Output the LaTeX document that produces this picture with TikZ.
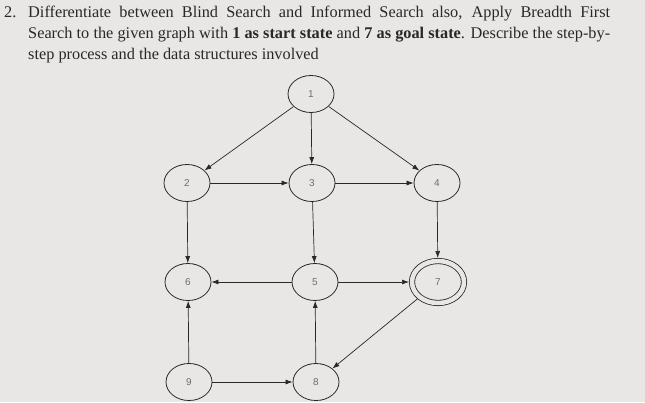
\documentclass[tikz,border=0pt]{standalone}
\usepackage{fontspec}
\setmainfont{Liberation Serif}
\newfontfamily\lblfont{Liberation Sans}
\usepackage{tikz}
\usetikzlibrary{shapes.geometric, arrows.meta, positioning}

\definecolor{paper}{RGB}{232,231,229}
\definecolor{ink}{RGB}{40,40,40}
\definecolor{lbl}{RGB}{110,110,110}

\begin{document}
\begin{tikzpicture}[x=1pt,y=-1pt,
  gnode/.style={ellipse,draw=ink,line width=0.8pt,minimum width=46pt,minimum height=37pt,inner sep=0pt,font=\lblfont\fontsize{10}{10}\selectfont,text=lbl},
  goalnode/.style={gnode,double=paper,double distance=4.5pt,minimum width=52pt,minimum height=42pt,outer sep=3pt},
  edge/.style={draw=ink,line width=0.7pt,-{Latex[length=7pt,width=5pt]}}]
\fill[paper] (0,0) rectangle (645,402);
\useasboundingbox (0,0) rectangle (645,402);

% question text
\node[anchor=base west,inner sep=0pt,text=ink,font=\fontsize{16.3}{20.7}\selectfont] (qnum) at (4,17.5) {2.};
\node[anchor=north west,inner sep=0pt,text=ink,text width=582pt,align=justify,font=\fontsize{16.3}{20.7}\selectfont] (qtext) at (28,6) {\hyphenpenalty=10000 Differentiate between Blind Search and Informed Search also, Apply Breadth First\linebreak Search to the given graph with \textbf{1 as start state} and \textbf{7 as goal state}. Describe the \mbox{step-by-}\linebreak step process and the data structures involved};

% graph
\node[gnode] (n1) at (311,94) {1};
\node[gnode] (n2) at (187,183) {2};
\node[gnode] (n3) at (312,183) {3};
\node[gnode] (n4) at (437,183) {4};
\node[gnode] (n6) at (188,282) {6};
\node[gnode] (n5) at (315,282) {5};
\node[goalnode] (n7) at (438,282) {7};
\node[gnode] (n9) at (189,382) {9};
\node[gnode] (n8) at (316,382) {8};

\draw[edge] (n1) -- (n2);
\draw[edge] (n1) -- (n3);
\draw[edge] (n1) -- (n4);
\draw[edge] (n2) -- (n3);
\draw[edge] (n3) -- (n4);
\draw[edge] (n2) -- (n6);
\draw[edge] (n3) -- (n5);
\draw[edge] (n4) -- (n7);
\draw[edge] (n5) -- (n6);
\draw[edge] (n5) -- (n7);
\draw[edge] (n7) -- (n8);
\draw[edge] (n9) -- (n6);
\draw[edge] (n9) -- (n8);
\draw[edge] (n8) -- (n5);
\end{tikzpicture}
\end{document}
